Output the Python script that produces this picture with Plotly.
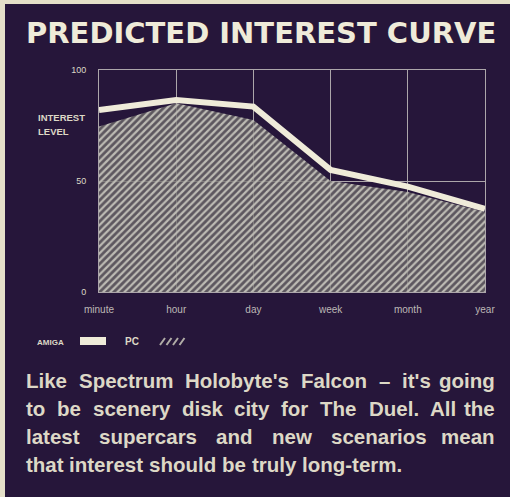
import plotly.graph_objects as go

W, H = 510, 497

# data
periods = ["minute", "hour", "day", "week", "month", "year"]
amiga_interest = [82, 86.5, 83.5, 55, 47.5, 37.5]
pc_interest = [74.5, 85, 77.5, 50, 45, 36]
y_ticks = [0, 50, 100]

title_text = "PREDICTED INTEREST CURVE"
blurb_lines = [
    "Like Spectrum Holobyte's Falcon – it's going",
    "to be scenery disk city for The Duel. All the",
    "latest supercars and new scenarios mean",
    "that interest should be truly long-term.",
]
blurb_y = [380, 408, 436, 464]

BG = "#26163a"
CREAM = "#efebd9"
TEXT = "#ddd8c6"
GRID = "#aca6aa"

# Liberation Sans Bold advance widths (per 1000 em) - used to justify the blurb
_ADV = {
    " ": 278, "a": 556, "b": 611, "c": 556, "d": 611, "e": 556, "f": 333, "g": 611,
    "h": 611, "i": 278, "k": 556, "l": 278, "m": 889, "n": 611, "o": 611, "p": 611,
    "r": 389, "s": 556, "t": 333, "u": 611, "v": 556, "w": 778, "y": 556,
    ".": 278, "'": 238, "-": 333, "–": 556, "A": 722, "D": 722, "F": 611,
    "H": 722, "L": 611, "S": 667, "T": 611,
}
BLURB_SIZE = 20.5
TEXT_L, TEXT_R = 24, 497


def text_w(s, size=BLURB_SIZE):
    return sum(_ADV.get(ch, 556) for ch in s) * size / 1000


def px(x):
    return x / W


def py(y):
    return 1 - y / H


fig = go.Figure()

fig.add_trace(go.Scatter(
    x=periods, y=pc_interest, mode="lines", name="PC",
    line=dict(width=0, color="rgba(0,0,0,0)"),
    fill="tozeroy",
    fillcolor="rgba(0,0,0,0)",
    fillpattern=dict(shape="/", fgcolor="#bdbbb4", bgcolor="rgba(110,108,106,0.75)",
                     size=5, solidity=0.45),
    hoverinfo="skip", showlegend=False,
))
fig.add_trace(go.Scatter(
    x=periods, y=amiga_interest, mode="lines", name="AMIGA",
    line=dict(width=6, color=CREAM),
    hoverinfo="skip", showlegend=False,
))

annotations = [
    dict(x=px(261), y=py(33), text=f"<b>{title_text}</b>", xanchor="center",
         font=dict(family="DejaVu Sans", size=29, color=CREAM)),
    dict(x=px(36), y=py(117), text="<b>INTEREST</b>", xanchor="left",
         font=dict(family="Liberation Sans", size=9.5, color=TEXT)),
    dict(x=px(36), y=py(132), text="<b>LEVEL</b>", xanchor="left",
         font=dict(family="Liberation Sans", size=9.5, color=TEXT)),
    dict(x=px(50), y=py(342), text="<b>AMIGA</b>", xanchor="center",
         font=dict(family="Liberation Sans", size=8, color=TEXT)),
    dict(x=px(132), y=py(341), text="<b>PC</b>", xanchor="center",
         font=dict(family="Liberation Sans", size=10, color=TEXT)),
]

# justified paragraph: every line but the last is spread to the full measure
for i, (line, yy) in enumerate(zip(blurb_lines, blurb_y)):
    words = line.split(" ")
    widths = [text_w(w) for w in words]
    last = i == len(blurb_lines) - 1
    if last or len(words) == 1:
        gap = text_w(" ")
    else:
        gap = (TEXT_R - TEXT_L - sum(widths)) / (len(words) - 1)
    x = TEXT_L
    for j, (word, w) in enumerate(zip(words, widths)):
        if not last and j == len(words) - 1:
            ann_x, anchor = TEXT_R, "right"
        else:
            ann_x, anchor = x, "left"
        annotations.append(dict(
            x=px(ann_x), y=py(yy), text=f"<b>{word}</b>", xanchor=anchor,
            font=dict(family="Liberation Sans", size=BLURB_SIZE, color=TEXT),
        ))
        x += w + gap

for a in annotations:
    a.update(xref="paper", yref="paper", showarrow=False, yanchor="middle")

shapes = [
    # dark panel on the cream page
    dict(type="rect", xref="paper", yref="paper", x0=px(5), x1=1, y0=0, y1=py(4),
         fillcolor=BG, line=dict(width=0), layer="below"),
    # legend swatches
    dict(type="rect", xref="paper", yref="paper", x0=px(80), x1=px(106),
         y0=py(345), y1=py(337), fillcolor=CREAM, line=dict(width=0)),
]
hatch_path = " ".join(
    f"M {px(160 + i * 6.5)},{py(345)} L {px(165 + i * 6.5)},{py(338)}" for i in range(4)
)
shapes.append(dict(type="path", xref="paper", yref="paper", path=hatch_path,
                   line=dict(color="#b0aca6", width=2)))

fig.update_layout(
    template="none",
    width=W, height=H,
    margin=dict(l=0, r=0, t=0, b=0, pad=0, autoexpand=False),
    paper_bgcolor="#e4dfc8",
    plot_bgcolor="rgba(0,0,0,0)",
    showlegend=False,
    annotations=annotations,
    shapes=shapes,
    xaxis=dict(
        domain=[px(99), px(485)],
        range=[0, len(periods) - 1],
        automargin=False,
        showgrid=True, gridcolor=GRID, gridwidth=1,
        showline=True, linecolor=GRID, linewidth=1, mirror=True,
        zeroline=False,
        ticks="outside", ticklen=8, tickcolor="rgba(0,0,0,0)",
        tickfont=dict(family="Liberation Sans", size=10, color="#bdb8b6"),
    ),
    yaxis=dict(
        domain=[py(292), py(70)],
        range=[0, 100],
        tickvals=y_ticks,
        automargin=False,
        showgrid=True, gridcolor=GRID, gridwidth=1,
        showline=True, linecolor=GRID, linewidth=1, mirror=True,
        zeroline=False,
        ticks="outside", ticklen=10, tickcolor="rgba(0,0,0,0)",
        tickfont=dict(family="Liberation Sans", size=9, color=TEXT),
        tickprefix="<b>", ticksuffix="</b>",
    ),
)

fig.write_html("out.html", config={"displayModeBar": False},
               post_script="document.body.style.margin='0px';")
